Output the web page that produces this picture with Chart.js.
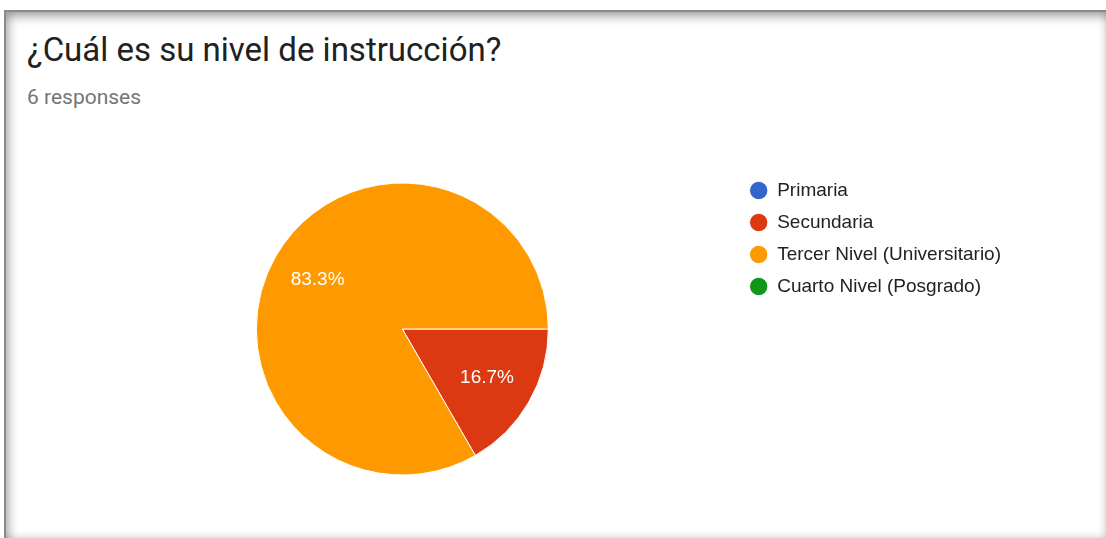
<!DOCTYPE html>
<html lang="es">
<head>
    <meta charset="UTF-8">
    <title>Nivel de instrucción</title>
    <style>
        body {
            margin: 0;
            width: 1106px;
            height: 538px;
            overflow: hidden;
            background: #fff;
            position: relative;
            font-family: Roboto, Arial, sans-serif;
        }
        .card {
            position: absolute;
            left: 4px;
            top: 10px;
            width: 1102px;
            height: 528px;
            background: #fff;
            border-top: 2px solid #8a8a8a;
            border-left: 2px solid #8a8a8a;
            box-sizing: border-box;
            box-shadow: inset 4px 6px 12px -3px rgba(0,0,0,0.45),
                        inset -5px -5px 8px -4px rgba(0,0,0,0.15);
        }
        .title {
            position: absolute;
            left: 27px;
            top: 30px;
            font-size: 33px;
            line-height: 40px;
            color: #212121;
            white-space: nowrap;
        }
        .sub {
            position: absolute;
            left: 27px;
            top: 85px;
            font-size: 21px;
            line-height: 24px;
            color: #757575;
        }
        canvas {
            position: absolute;
            left: 0;
            top: 0;
        }
    </style>
</head>
<body>
    <div class="card"></div>
    <div class="title">¿Cuál es su nivel de instrucción?</div>
    <div class="sub">6 responses</div>
    <canvas id="pieChart" width="1106" height="538"></canvas>

    <script src="https://cdn.jsdelivr.net/npm/chart.js"></script>
    <script>
        // answers to the question
        const categories = ['Primaria', 'Secundaria', 'Tercer Nivel (Universitario)', 'Cuarto Nivel (Posgrado)'];
        const responses = [0, 1, 5, 0];
        const sliceColors = ['#3366cc', '#dc3912', '#ff9900', '#109618'];

        const total = responses.reduce((a, b) => a + b, 0);

        // white percentage text inside each slice
        const sliceLabels = {
            id: 'sliceLabels',
            afterDatasetsDraw(chart) {
                const ctx = chart.ctx;
                const meta = chart.getDatasetMeta(0);
                ctx.save();
                ctx.fillStyle = '#ffffff';
                ctx.font = '19px Arial, "Liberation Sans", sans-serif';
                ctx.textAlign = 'center';
                ctx.textBaseline = 'middle';
                meta.data.forEach((arc, i) => {
                    const v = responses[i];
                    if (!v) return;
                    const p = arc.getProps(['x', 'y', 'startAngle', 'endAngle', 'outerRadius'], true);
                    const mid = (p.startAngle + p.endAngle) / 2;
                    const r = p.outerRadius * 0.67;
                    const text = (v / total * 100).toFixed(1) + '%';
                    ctx.fillText(text, p.x + Math.cos(mid) * r, p.y + Math.sin(mid) * r);
                });
                ctx.restore();
            }
        };

        const ctx = document.getElementById('pieChart').getContext('2d');
        new Chart(ctx, {
            type: 'pie',
            data: {
                labels: categories,
                datasets: [{
                    data: responses,
                    backgroundColor: sliceColors,
                    borderColor: '#ffffff',
                    borderWidth: 1,
                    radius: 146
                }]
            },
            options: {
                responsive: false,
                animation: false,
                rotation: 90,
                layout: {
                    padding: { left: 68, right: 95, top: 168, bottom: 48 }
                },
                plugins: {
                    tooltip: { enabled: false },
                    legend: {
                        position: 'right',
                        align: 'start',
                        labels: {
                            usePointStyle: true,
                            pointStyle: 'circle',
                            boxWidth: 18,
                            boxHeight: 13,
                            padding: 13,
                            color: '#222222',
                            font: { family: 'Arial, "Liberation Sans", sans-serif', size: 19 }
                        }
                    }
                }
            },
            plugins: [sliceLabels]
        });
    </script>
</body>
</html>
